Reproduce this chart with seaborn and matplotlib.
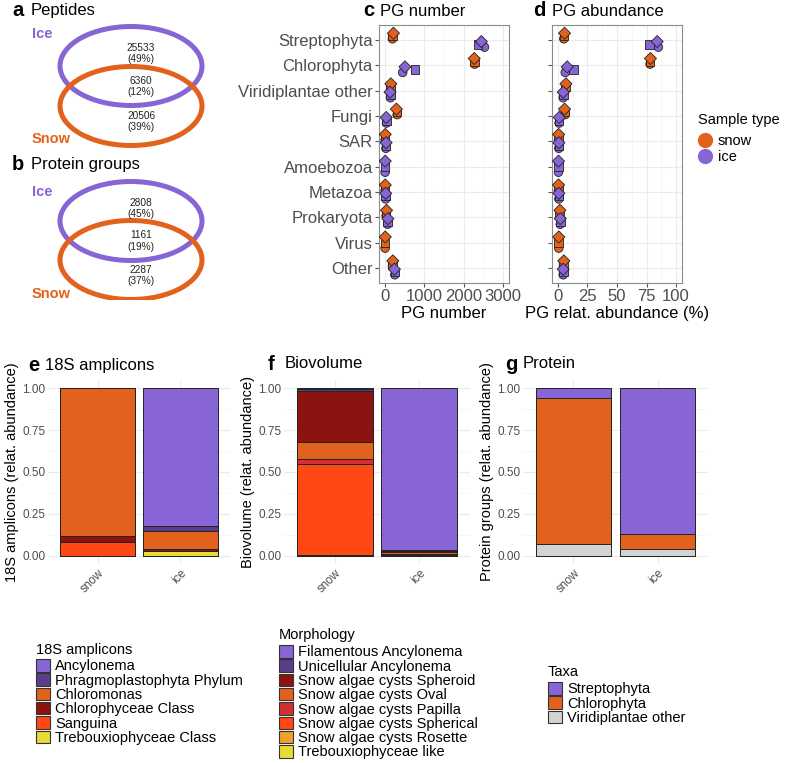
import numpy as np
import pandas as pd
import matplotlib.pyplot as plt
import seaborn as sns
from matplotlib.patches import Ellipse, Patch
from matplotlib.lines import Line2D

# ---------------- data ----------------
peptides = [25533, 6360, 20506]
peptides_pct = [49, 12, 39]
protein_groups = [2808, 1161, 2287]
protein_groups_pct = [45, 19, 37]

taxa = ['Streptophyta', 'Chlorophyta', 'Viridiplantae other', 'Fungi', 'SAR',
        'Amoebozoa', 'Metazoa', 'Prokaryota', 'Virus', 'Other']
shapes = ['D', 's', 'o']  # one marker per replicate
nan = np.nan

# PG number per replicate (diamond, square, circle)
pg_number_snow = [[225, 200, 200], [2270, 2280, 2280], [160, 155, 160], [300, 320, 320],
                  [18, 15, 15], [nan, nan, nan], [18, 15, 15], [50, 40, 40],
                  [18, 15, 15], [210, 200, 200]]
pg_number_ice = [[2450, 2370, 2530], [517, 767, 460], [140, 150, 150], [42, 50, 50],
                 [40, 35, 35], [18, 15, 15], [30, 30, 30], [85, 80, 80],
                 [nan, nan, nan], [250, 260, 260]]
# PG relative abundance (%)
pg_abund_snow = [[5.6, 5.0, 5.0], [78.3, 78.0, 78.0], [6.8, 6.5, 6.5], [5.6, 6.0, 6.0],
                 [0.6, 0.5, 0.5], [nan, nan, nan], [0.5, 0.4, 0.4], [1.7, 1.5, 1.5],
                 [0.8, 0.7, 0.7], [5.0, 4.8, 4.8]]
pg_abund_ice = [[84.0, 77.5, 85.0], [7.9, 13.2, 6.2], [4.5, 4.5, 4.5], [1.1, 1.0, 1.0],
                [0.8, 0.8, 0.8], [0.5, 0.5, 0.5], [0.8, 0.8, 0.8], [2.0, 2.0, 2.0],
                [nan, nan, nan], [4.5, 4.5, 4.5]]

samples = ['snow', 'ice']
amplicon_taxa = ['Ancylonema', 'Phragmoplastophyta Phylum', 'Chloromonas',
                 'Chlorophyceae Class', 'Sanguina', 'Trebouxiophyceae Class']
amplicon_snow = [0.0, 0.0, 0.88, 0.04, 0.08, 0.0]
amplicon_ice = [0.823, 0.03, 0.107, 0.01, 0.004, 0.026]

morph_types = ['Filamentous Ancylonema', 'Unicellular Ancylonema', 'Snow algae cysts Spheroid',
               'Snow algae cysts Oval', 'Snow algae cysts Papilla', 'Snow algae cysts Spherical',
               'Snow algae cysts Rosette', 'Trebouxiophyceae like']
morph_snow = [0.005, 0.009, 0.304, 0.105, 0.03, 0.542, 0.005, 0.0]
morph_ice = [0.968, 0.006, 0.004, 0.012, 0.002, 0.004, 0.002, 0.002]

protein_taxa = ['Streptophyta', 'Chlorophyta', 'Viridiplantae other']
protein_snow = [0.056, 0.874, 0.07]
protein_ice = [0.871, 0.089, 0.04]

# ---------------- style ----------------
purple = '#8765D4'
dpurple = '#5A3E8C'
orange = '#E2621D'
dred = '#8C1410'
redor = '#FF4813'
yellow = '#E6DC34'
red = '#D13131'
rosette = '#EEA22D'
lgrey = '#D3D3D3'
tick_grey = '#4D4D4D'

amplicon_cols = [purple, dpurple, orange, dred, redor, yellow]
morph_cols = [purple, dpurple, dred, orange, red, redor, rosette, yellow]
protein_cols = [purple, orange, lgrey]

plt.rcParams['font.family'] = ['Liberation Sans', 'DejaVu Sans']

W, H = 800, 763
fig = plt.figure(figsize=(W / 100, H / 100), dpi=100)


def box(l, t, r, b):
    return [l / W, 1 - b / H, (r - l) / W, (b - t) / H]


def panel_title(xl, xt, y, letter, text):
    fig.text(xl / W, 1 - y / H, letter, fontsize=14.5, fontweight='bold', va='center', ha='left')
    fig.text(xt / W, 1 - y / H, text, fontsize=12, va='center', ha='left')


# ---------------- a / b: venn ----------------
ax_v = fig.add_axes(box(0, 0, 240, 300))
ax_v.set_xlim(0, 240)
ax_v.set_ylim(300, 0)
ax_v.axis('off')


def venn(yc_ice, yc_snow, counts, pcts, y_ice_lab, y_snow_lab):
    ax_v.add_patch(Ellipse((131, yc_ice), 142, 79, fill=False, ec=purple, lw=3.6))
    ax_v.add_patch(Ellipse((131, yc_snow), 142, 79, fill=False, ec=orange, lw=3.6))
    ys = [yc_ice - 13, (yc_ice + yc_snow) / 2, yc_snow + 15]
    for y, c, p in zip(ys, counts, pcts):
        ax_v.text(141, y - 5, str(c), fontsize=7.3, ha='center', va='center', color='#222222')
        ax_v.text(141, y + 6, f'({p}%)', fontsize=7.3, ha='center', va='center', color='#222222')
    ax_v.text(42, y_ice_lab, 'Ice', color=purple, fontsize=10.5, fontweight='bold', ha='center', va='center')
    ax_v.text(51, y_snow_lab, 'Snow', color=orange, fontsize=10.5, fontweight='bold', ha='center', va='center')


venn(66, 106, peptides, peptides_pct, 34, 139)
venn(221, 260, protein_groups, protein_groups_pct, 192, 294)
panel_title(12, 31, 11, 'a', 'Peptides')
panel_title(12, 31, 165, 'b', 'Protein groups')

# ---------------- c / d: dot plots ----------------
rows = []
for ti, t in enumerate(taxa):
    for st, nv, av in [('snow', pg_number_snow, pg_abund_snow), ('ice', pg_number_ice, pg_abund_ice)]:
        for ri, shp in enumerate(shapes):
            if np.isnan(nv[ti][ri]):
                continue
            rows.append(dict(taxon=t, code=ti, sample=st, rep=shp,
                             pg_number=nv[ti][ri], pg_abund=av[ti][ri]))
df = pd.DataFrame(rows)
dodge_w = 0.66
df['grp'] = df.groupby('taxon').cumcount()
df['n'] = df.groupby('taxon')['grp'].transform('count')
df['ypos'] = df['code'] + (df['grp'] - (df['n'] - 1) / 2) * dodge_w / df['n']
df = df.sort_values('rep', key=lambda s: s.map({'o': 0, 's': 1, 'D': 2}), kind='stable')

ax_c = fig.add_axes(box(379, 25, 509, 283))
ax_d = fig.add_axes(box(552, 25, 682, 283))
for ax, col, xlim, major, minor, xlabel in [
        (ax_c, 'pg_number', (-140, 3150), [0, 1000, 2000, 3000], [500, 1500, 2500], 'PG number'),
        (ax_d, 'pg_abund', (-5, 105), [0, 25, 50, 75, 100], [12.5, 37.5, 62.5, 87.5], 'PG relat. abundance (%)')]:
    sns.scatterplot(data=df, x=col, y='ypos', hue='sample', style='rep',
                    markers={'D': 'D', 's': 's', 'o': 'o'},
                    palette={'snow': orange, 'ice': purple}, s=38,
                    edgecolor='#222222', linewidth=0.6, legend=False, ax=ax, zorder=3)
    ax.set_xlim(*xlim)
    ax.set_ylim(len(taxa) - 0.4, -0.6)
    ax.set_xticks(major)
    ax.set_xticks(minor, minor=True)
    ax.set_yticks(range(len(taxa)))
    ax.set_axisbelow(True)
    ax.grid(which='major', color='#EBEBEB', lw=0.8)
    ax.grid(which='minor', axis='x', color='#F3F3F3', lw=0.5)
    ax.tick_params(which='major', length=3, color='#555555', labelcolor=tick_grey, labelsize=12, pad=1.5)
    ax.tick_params(which='minor', length=0)
    ax.set_xlabel(xlabel, fontsize=12, labelpad=1)
    ax.set_ylabel('')
    for sp in ax.spines.values():
        sp.set_color('#8C8C8C')
        sp.set_linewidth(0.8)
ax_c.set_yticklabels(taxa)
ax_d.set_yticklabels([])
panel_title(363, 380, 11, 'c', 'PG number')
panel_title(533, 552, 11, 'd', 'PG abundance')

fig.text(698 / W, 1 - 120 / H, 'Sample type', fontsize=10.5, va='center', ha='left')
st_handles = [Line2D([], [], marker='o', ls='', markersize=11, markerfacecolor=c, markeredgewidth=0, label=l)
              for l, c in [('snow', orange), ('ice', purple)]]
fig.legend(handles=st_handles, loc='upper left', bbox_to_anchor=(698 / W, 1 - 134 / H),
           frameon=False, fontsize=10.5, handletextpad=0.35, labelspacing=0.15,
           borderpad=0, borderaxespad=0, handlelength=1.0)

# ---------------- e / f / g: stacked bars ----------------


def stacked(ax, levels, snow_vals, ice_vals, colors, ylabel):
    tab = pd.DataFrame({'snow': snow_vals, 'ice': ice_vals}, index=levels)
    cum = tab[::-1].cumsum()[::-1]  # top of each segment
    for lev, colr in zip(levels, colors):
        d = pd.DataFrame({'sample': samples, 'value': [cum.loc[lev, s] for s in samples]})
        sns.barplot(data=d, x='sample', y='value', order=samples, color=colr, width=0.9,
                    edgecolor='#222222', linewidth=0.7, saturation=1, ax=ax, zorder=2)
    ax.set_xlim(-0.6, 1.6)
    ax.set_ylim(-0.05, 1.05)
    ax.set_yticks([0, 0.25, 0.5, 0.75, 1.0])
    ax.set_yticklabels(['0.00', '0.25', '0.50', '0.75', '1.00'])
    ax.set_yticks([0.125, 0.375, 0.625, 0.875], minor=True)
    ax.set_axisbelow(True)
    ax.grid(which='major', color='#EBEBEB', lw=0.8)
    ax.grid(which='minor', axis='y', color='#F3F3F3', lw=0.5)
    ax.tick_params(which='both', length=0, labelcolor=tick_grey, labelsize=8.5, pad=2)
    plt.setp(ax.get_xticklabels(), rotation=45, ha='right', rotation_mode='anchor')
    ax.set_xlabel('')
    ax.set_ylabel(ylabel, fontsize=10.5, labelpad=2)
    for sp in ax.spines.values():
        sp.set_visible(False)


ax_e = fig.add_axes(box(48, 380, 230, 564))
ax_f = fig.add_axes(box(284, 380, 470, 564))
ax_g = fig.add_axes(box(523, 380, 708, 564))
stacked(ax_e, amplicon_taxa, amplicon_snow, amplicon_ice, amplicon_cols, '18S amplicons (relat. abundance)')
stacked(ax_f, morph_types, morph_snow, morph_ice, morph_cols, 'Biovolume (relat. abundance)')
stacked(ax_g, protein_taxa, protein_snow, protein_ice, protein_cols, 'Protein groups (relat. abundance)')
panel_title(28, 45, 365, 'e', '18S amplicons')
panel_title(268, 285, 364, 'f', 'Biovolume')
panel_title(505, 523, 364, 'g', 'Protein')

# ---------------- bottom legends ----------------
for levels, colors, title, x, ytitle, ykeys in [(amplicon_taxa, amplicon_cols, '18S amplicons', 36, 650, 659),
                                                (morph_types, morph_cols, 'Morphology', 279, 635, 645),
                                                (protein_taxa, protein_cols, 'Taxa', 548, 672, 682)]:
    fig.text(x / W, 1 - ytitle / H, title, fontsize=10.5, va='center', ha='left')
    handles = [Patch(facecolor=c, edgecolor='#333333', lw=0.8, label=l) for l, c in zip(levels, colors)]
    fig.legend(handles=handles, loc='upper left', bbox_to_anchor=(x / W, 1 - ykeys / H),
               frameon=False, fontsize=10.5, handlelength=0.95, handleheight=0.95,
               handletextpad=0.35, labelspacing=0.0, borderpad=0, borderaxespad=0)

fig.savefig('out.png', dpi=100)
